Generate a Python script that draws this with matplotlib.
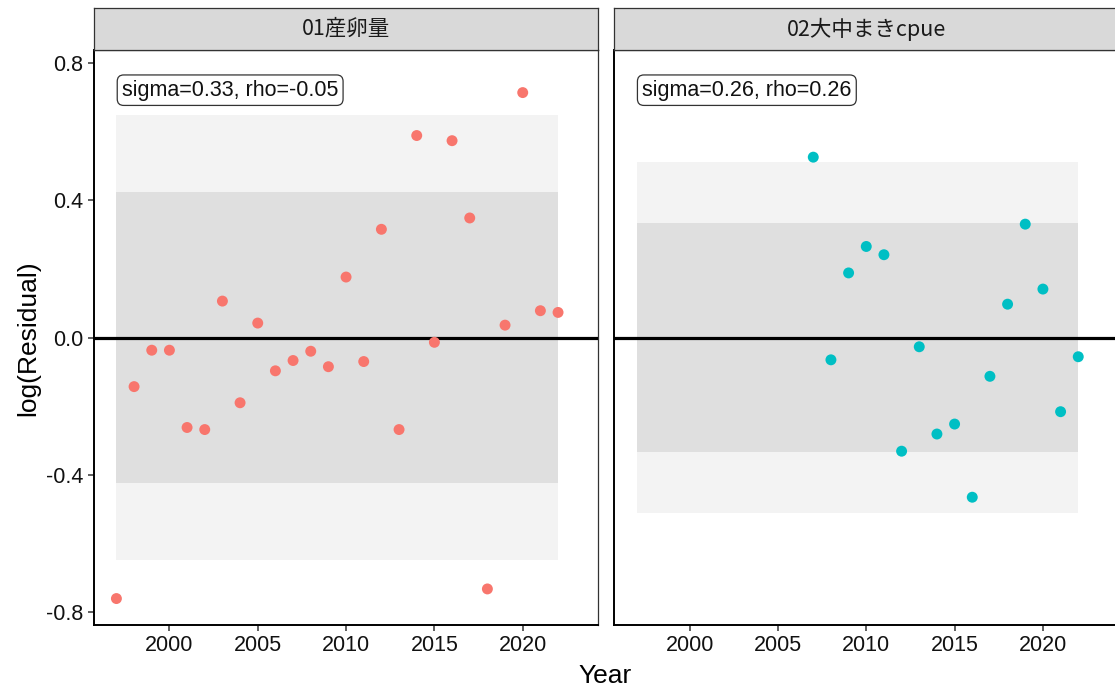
import matplotlib
matplotlib.use("Agg")
import matplotlib.pyplot as plt

plt.rcParams['font.family'] = ['Liberation Sans', 'Noto Sans CJK JP', 'DejaVu Sans']
plt.rcParams['axes.unicode_minus'] = False

# residual series for each index
years_1 = list(range(1997, 2023))
resid_1 = [-0.760, -0.143, -0.037, -0.037, -0.262, -0.268, 0.106, -0.190, 0.042,
           -0.097, -0.067, -0.040, -0.085, 0.176, -0.070, 0.315, -0.268, 0.588,
           -0.014, 0.573, 0.348, -0.732, 0.036, 0.713, 0.078, 0.073]

years_2 = list(range(2007, 2023))
resid_2 = [0.525, -0.065, 0.188, 0.265, 0.241, -0.331, -0.027, -0.281, -0.252,
           -0.465, -0.113, 0.097, 0.330, 0.141, -0.216, -0.056]

panel_names = ['01産卵量', '02大中まきcpue']
sigmas = [0.33, 0.26]
rhos = [-0.05, 0.26]
point_colors = ['#F8766D', '#00BFC4']

x_ticks = [2000, 2005, 2010, 2015, 2020]
y_ticks = [-0.8, -0.4, 0.0, 0.4, 0.8]
y_tick_labels = ['-0.8', '-0.4', '0.0', '0.4', '0.8']

year_min, year_max = 1997, 2022
q80, q95 = 1.2816, 1.96

fig = plt.figure(figsize=(11.15, 6.93), dpi=100)
W, H = 1115, 693

panels = [(93.8, years_1, resid_1), (614, years_2, resid_2)]
pw = 504
top, bot = 50, 625

for i, (x0, yrs, res) in enumerate(panels):
    ax = fig.add_axes([x0 / W, 1 - bot / H, pw / W, (bot - top) / H])
    s = sigmas[i]
    # 95% and 80% bands
    ax.fill_between([year_min, year_max], -q95 * s, q95 * s, color='#F3F3F3', lw=0, zorder=1)
    ax.fill_between([year_min, year_max], -q80 * s, q80 * s, color='#DFDFDF', lw=0, zorder=2)
    ax.axhline(0, color='black', lw=2.3, zorder=3)
    ax.scatter(yrs, res, s=62, color=point_colors[i], edgecolors='none', zorder=4)

    ax.annotate('sigma=%.2f, rho=%.2f' % (sigmas[i], rhos[i]), xy=(year_min, 0.72),
                xytext=(4, 0), textcoords='offset points', ha='left', va='center',
                fontsize=15.5, color='#111111', zorder=5,
                bbox=dict(boxstyle='round,pad=0.22,rounding_size=0.3', fc='white',
                          ec='#333333', lw=0.9))

    ax.set_xlim(1995.72, 2024.25)
    ax.set_ylim(-0.837, 0.837)
    ax.set_xticks(x_ticks)
    ax.set_yticks(y_ticks)
    ax.set_yticklabels(y_tick_labels)
    ax.tick_params(labelsize=15.5, length=4.5, width=1.1, color='#333333', labelcolor='#111111', pad=3)
    for sp in ax.spines.values():
        sp.set_color('#333333')
        sp.set_linewidth(0.9)
    ax.spines['left'].set_color('black')
    ax.spines['left'].set_linewidth(1.4)
    ax.spines['bottom'].set_color('black')
    ax.spines['bottom'].set_linewidth(1.4)
    if i == 1:
        ax.tick_params(axis='y', left=False, labelleft=False)

    # facet strip
    sx = fig.add_axes([x0 / W, 1 - top / H, pw / W, 42 / H])
    sx.set_facecolor('#D9D9D9')
    sx.set_xticks([])
    sx.set_yticks([])
    for sp in sx.spines.values():
        sp.set_color('#333333')
        sp.set_linewidth(0.9)
    sx.text(0.5, 0.5, panel_names[i], ha='center', va='center', fontsize=15.5,
            color='#1a1a1a', family=['Noto Sans CJK JP', 'DejaVu Sans'], transform=sx.transAxes)

fig.text(28 / W, 1 - 338 / H, 'log(Residual)', rotation=90, ha='center', va='center', fontsize=19)
fig.text(605 / W, 1 - 676 / H, 'Year', ha='center', va='center', fontsize=19)

fig.savefig('out.png', dpi=100)
